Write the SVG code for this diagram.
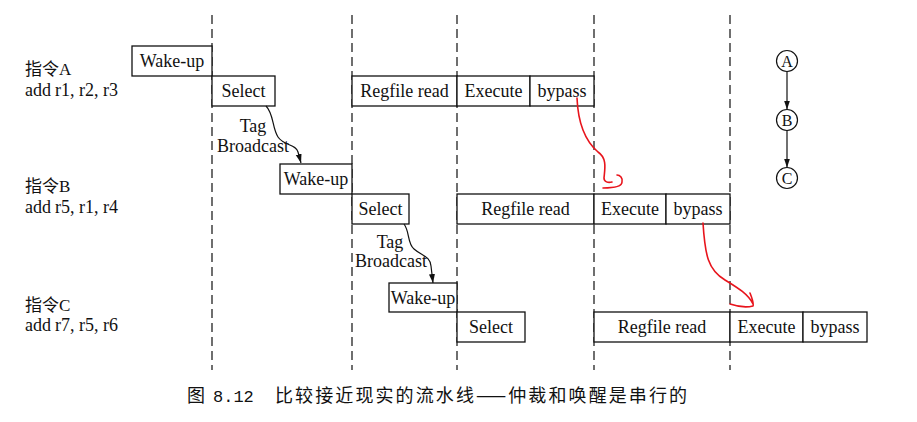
<svg xmlns="http://www.w3.org/2000/svg" width="917" height="422" viewBox="0 0 917 422">
<style>
.box{fill:#fff;stroke:#111;stroke-width:1.3}
.t{font-family:"Liberation Serif","Times New Roman",serif;font-size:18px;fill:#111;text-anchor:middle}
.ct{font-size:16px}
.lbl{font-family:"Liberation Serif","Noto Sans CJK SC",serif;font-size:17px;fill:#111}
.code{font-size:18px}
.dash{stroke:#222;stroke-width:1.3;stroke-dasharray:9 5;fill:none}
.arr{fill:none;stroke:#111;stroke-width:1.2}
.red{fill:none;stroke:#e8141c;stroke-width:1.6;stroke-linecap:round;stroke-linejoin:round}
.circ{fill:#fff;stroke:#111;stroke-width:1.2}
.cap{font-family:"Noto Sans CJK SC","Noto Sans CJK TC",sans-serif;font-size:18px;fill:#111}
.num{font-family:"Liberation Mono",monospace;font-size:17px}
</style>
<defs>
<marker id="ah" markerUnits="userSpaceOnUse" markerWidth="10" markerHeight="8" refX="9" refY="3" orient="auto">
<path d="M0,0 L9,3 L0,6 Z" fill="#111"/>
</marker>
</defs>
<rect width="917" height="422" fill="#fff"/>
<g id="gridlines">
<line class="dash" x1="212" y1="15" x2="212" y2="370"/>
<line class="dash" x1="352" y1="15" x2="352" y2="370"/>
<line class="dash" x1="457" y1="15" x2="457" y2="370"/>
<line class="dash" x1="594" y1="15" x2="594" y2="370"/>
<line class="dash" x1="730" y1="15" x2="730" y2="370"/>
</g>
<g id="labels">
<text class="lbl" x="25" y="75">指令A</text>
<text class="lbl code" x="25" y="96">add<tspan dx="4">r1, r2, r3</tspan></text>
<text class="lbl" x="25" y="192">指令B</text>
<text class="lbl code" x="25" y="213">add<tspan dx="4">r5, r1, r4</tspan></text>
<text class="lbl" x="25" y="311">指令C</text>
<text class="lbl code" x="25" y="331">add<tspan dx="4">r7, r5, r6</tspan></text>
</g>
<g id="A-wakeup"><rect class="box" x="132" y="46" width="80" height="30"/><text class="t" x="172" y="67">Wake-up</text></g>
<g id="A-select"><rect class="box" x="212" y="76" width="63" height="30"/><text class="t" x="243.5" y="97">Select</text></g>
<g id="A-regfile"><rect class="box" x="352" y="76" width="105" height="30"/><text class="t" x="404.5" y="97">Regfile read</text></g>
<g id="A-execute"><rect class="box" x="457" y="76" width="73" height="30"/><text class="t" x="493.5" y="97">Execute</text></g>
<g id="A-bypass"><rect class="box" x="530" y="76" width="64" height="30"/><text class="t" x="562" y="97">bypass</text></g>
<g id="B-wakeup"><rect class="box" x="280" y="164" width="72" height="30"/><text class="t" x="316" y="185">Wake-up</text></g>
<g id="B-select"><rect class="box" x="352" y="194" width="57" height="30"/><text class="t" x="380.5" y="215">Select</text></g>
<g id="B-regfile"><rect class="box" x="457" y="194" width="137" height="30"/><text class="t" x="525.5" y="215">Regfile read</text></g>
<g id="B-execute"><rect class="box" x="594" y="194" width="72" height="30"/><text class="t" x="630" y="215">Execute</text></g>
<g id="B-bypass"><rect class="box" x="666" y="194" width="64" height="30"/><text class="t" x="698" y="215">bypass</text></g>
<g id="C-wakeup"><rect class="box" x="389" y="283" width="68" height="29"/><text class="t" x="423" y="304">Wake-up</text></g>
<g id="C-select"><rect class="box" x="457" y="312" width="68" height="30"/><text class="t" x="491" y="333">Select</text></g>
<g id="C-regfile"><rect class="box" x="594" y="312" width="136" height="30"/><text class="t" x="662" y="333">Regfile read</text></g>
<g id="C-execute"><rect class="box" x="730" y="312" width="73" height="30"/><text class="t" x="766.5" y="333">Execute</text></g>
<g id="C-bypass"><rect class="box" x="803" y="312" width="64" height="30"/><text class="t" x="835" y="333">bypass</text></g>
<g id="dep-A"><circle class="circ" cx="787" cy="61" r="10.5"/><text class="t ct" x="787" y="66.5">A</text></g>
<g id="dep-B"><circle class="circ" cx="787" cy="120" r="10.5"/><text class="t ct" x="787" y="125.5">B</text></g>
<g id="dep-C"><circle class="circ" cx="787" cy="178" r="10.5"/><text class="t ct" x="787" y="183.5">C</text></g>
<g id="connectors">
<path class="arr" d="M266,106 C274,114 272,128 278,137 C284,146 296,144 298,152 L301,163" marker-end="url(#ah)"/>
<text class="t" x="253" y="132">Tag</text>
<text class="t" x="253" y="152">Broadcast</text>
<path class="arr" d="M404,224 C410,232 407,243 414,249 C422,256 430,256 431,266 L433,283" marker-end="url(#ah)"/>
<text class="t" x="390" y="248">Tag</text>
<text class="t" x="391" y="267">Broadcast</text>
<line class="arr" x1="787" y1="71.5" x2="787" y2="109.5" marker-end="url(#ah)"/>
<line class="arr" x1="787" y1="130.5" x2="787" y2="167.5" marker-end="url(#ah)"/>
<path class="red" d="M577,98 C578,122 584,140 598,152 C607,158 605,168 604,178 C604,182 608,183 612,182 M603,188 C612,188 622,187 622,182 C623,178 620,175 617,175"/>
<path class="red" d="M703,223 C705,255 708,270 725,280 C738,288 748,294 753,304 M750,293 C752,298 754,303 753,306 C745,308 736,306 730,304"/>
</g>
<g id="caption">
<text class="cap" x="187" y="402">图</text>
<text class="cap num" x="213" y="402">8.12</text>
<text class="cap" x="275" y="402" letter-spacing="2.1">比较接近现实的流水线——仲裁和唤醒是串行的</text>
</g>
</svg>
